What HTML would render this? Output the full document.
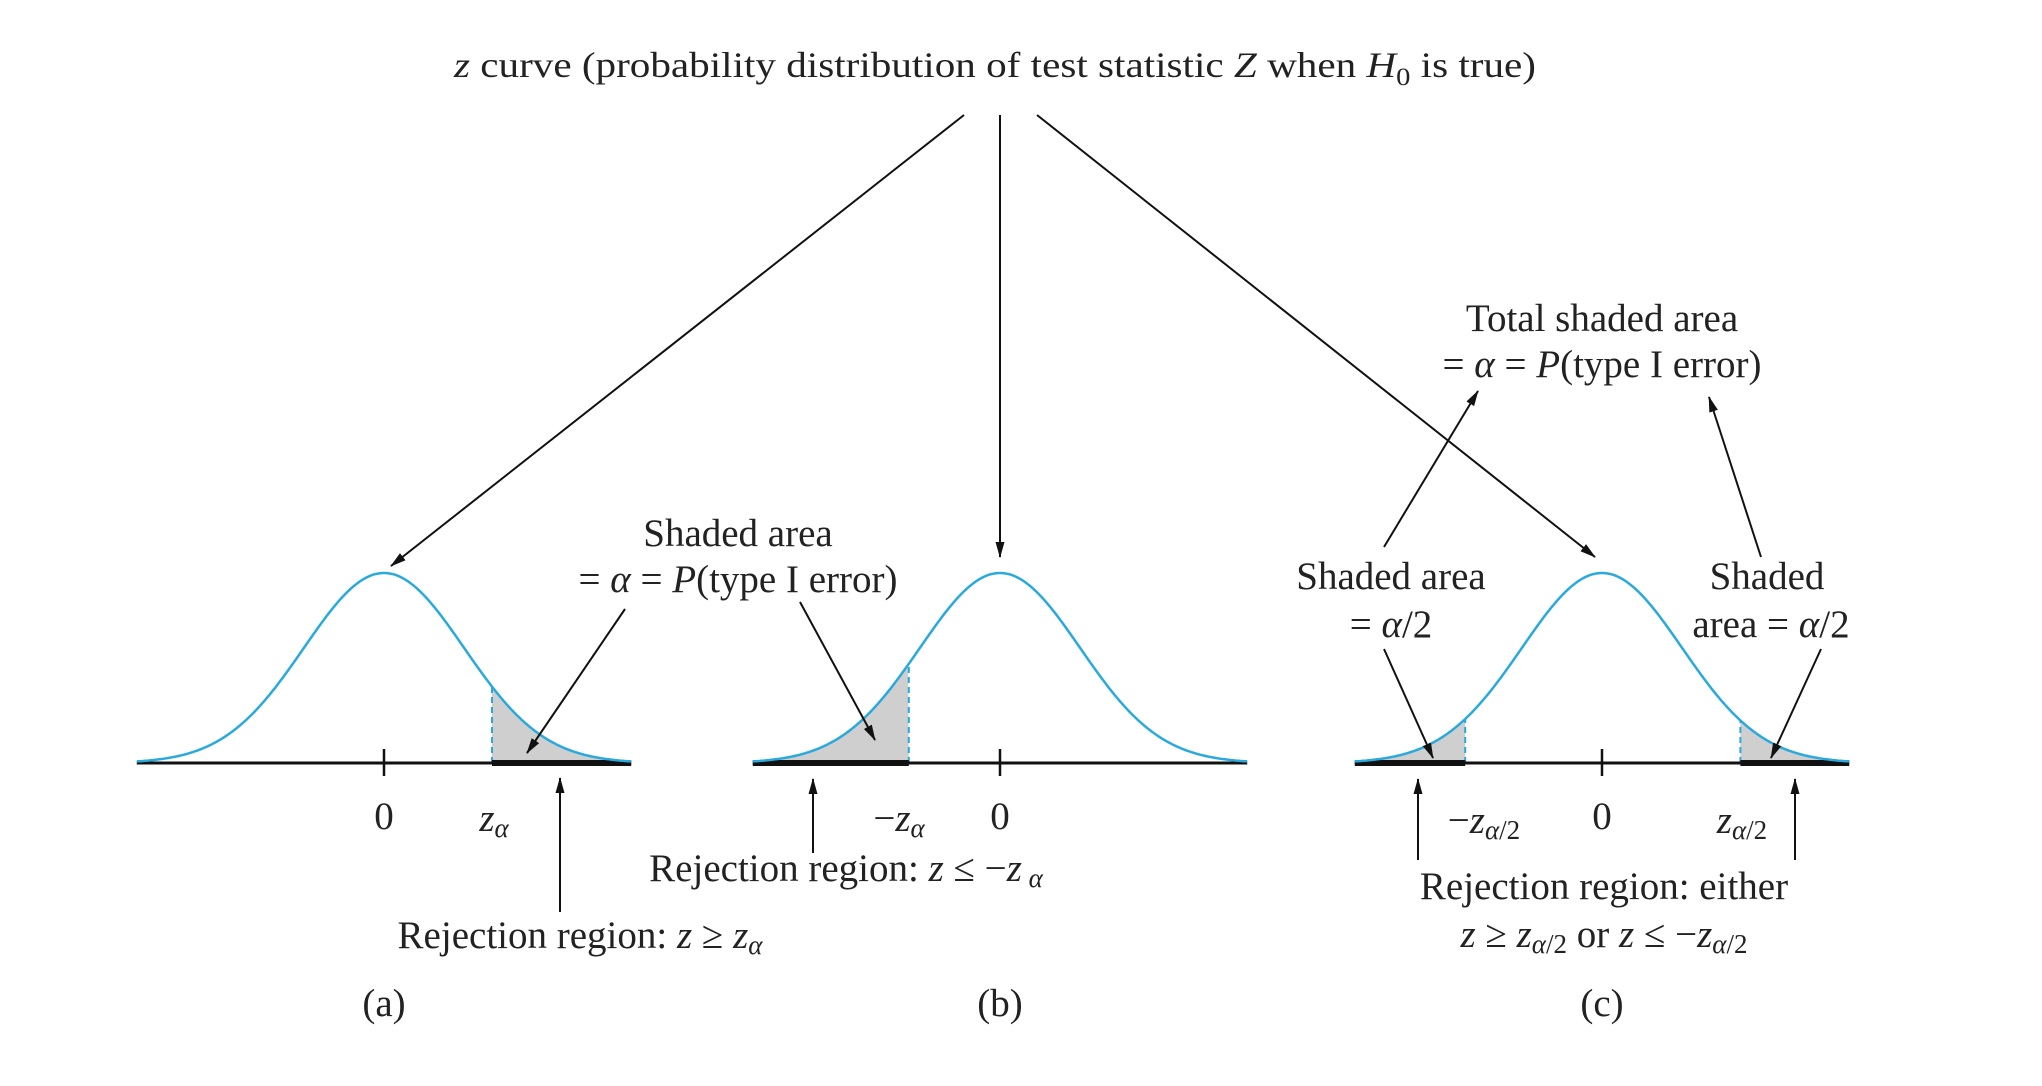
<!DOCTYPE html>
<html><head><meta charset="utf-8"><style>
html,body{margin:0;padding:0;background:#fff}
svg{display:block}
text{font-family:"Liberation Serif",serif;fill:#222;}
</style></head><body>
<svg id="fig" width="2042" height="1086" viewBox="0 0 2042 1086" xmlns="http://www.w3.org/2000/svg">
<defs>
<marker id="ah" markerWidth="16" markerHeight="12" refX="15" refY="6" orient="auto" markerUnits="userSpaceOnUse" viewBox="0 0 16 12"><path d="M0,1.5 L16,6 L0,10.5 Z" fill="#111"/></marker>
</defs>
<g id="marks"></g>
<text x="995" y="77" font-size="36" text-anchor="middle" textLength="1082" lengthAdjust="spacingAndGlyphs"><tspan font-style="italic">z</tspan> curve (probability distribution of test statistic <tspan font-style="italic">Z</tspan> when <tspan font-style="italic">H</tspan><tspan font-size="25" dy="8">0</tspan><tspan dy="-8"> is true)</tspan></text>

<text x="738" y="546" font-size="39" text-anchor="middle">Shaded area</text>
<text x="738" y="592" font-size="39" text-anchor="middle">= <tspan font-style="italic">α</tspan> = <tspan font-style="italic">P</tspan>(type I error)</text>
<text x="384" y="829" font-size="39" text-anchor="middle">0</text>
<text x="494" y="831" font-size="39" text-anchor="middle" font-style="italic">z<tspan font-size="27" dy="6">α</tspan></text>
<text x="580" y="948" font-size="39" text-anchor="middle">Rejection region: <tspan font-style="italic">z</tspan> ≥ <tspan font-style="italic">z</tspan><tspan font-size="27" dy="6" font-style="italic">α</tspan></text>
<text x="384" y="1016" font-size="39" text-anchor="middle">(a)</text>

<text x="899" y="831" font-size="39" text-anchor="middle">−<tspan font-style="italic">z</tspan><tspan font-size="27" dy="6" font-style="italic">α</tspan></text>
<text x="1000" y="829" font-size="39" text-anchor="middle">0</text>
<text x="846" y="881" font-size="39" text-anchor="middle">Rejection region: <tspan font-style="italic">z</tspan> ≤ −<tspan font-style="italic">z</tspan><tspan font-size="27" dy="6" font-style="italic"> α</tspan></text>
<text x="1000" y="1016" font-size="39" text-anchor="middle">(b)</text>

<text x="1602" y="331" font-size="39" text-anchor="middle">Total shaded area</text>
<text x="1602" y="377" font-size="39" text-anchor="middle">= <tspan font-style="italic">α</tspan> = <tspan font-style="italic">P</tspan>(type I error)</text>
<text x="1391" y="589" font-size="39" text-anchor="middle">Shaded area</text>
<text x="1391" y="637" font-size="39" text-anchor="middle">= <tspan font-style="italic">α</tspan>/2</text>
<text x="1767" y="589" font-size="39" text-anchor="middle">Shaded</text>
<text x="1771" y="637" font-size="39" text-anchor="middle">area = <tspan font-style="italic">α</tspan>/2</text>
<text x="1484" y="833" font-size="39" text-anchor="middle">−<tspan font-style="italic">z</tspan><tspan font-size="27" dy="6" font-style="italic">α</tspan><tspan font-size="27">/2</tspan></text>
<text x="1602" y="829" font-size="39" text-anchor="middle">0</text>
<text x="1742" y="833" font-size="39" text-anchor="middle" font-style="italic">z<tspan font-size="27" dy="6">α</tspan><tspan font-size="27" font-style="normal">/2</tspan></text>
<text x="1604" y="899" font-size="39" text-anchor="middle">Rejection region: either</text>
<text x="1604" y="947" font-size="39" text-anchor="middle"><tspan font-style="italic">z</tspan> ≥ <tspan font-style="italic">z</tspan><tspan font-size="27" dy="6" font-style="italic">α</tspan><tspan font-size="27">/2</tspan><tspan dy="-6"> or </tspan><tspan font-style="italic">z</tspan> ≤ −<tspan font-style="italic">z</tspan><tspan font-size="27" dy="6" font-style="italic">α</tspan><tspan font-size="27">/2</tspan></text>
<text x="1602" y="1016" font-size="39" text-anchor="middle">(c)</text>
</svg>
<script>
// Panel data
const panelNames = ["a","b","c"];
const centers = [384, 1000, 1602];
const zMin = [-3.09, -3.09, -3.09];
const zMax = [3.09, 3.09, 3.09];
const shadeLo = [[1.35], [-3.09], [-3.09, 1.73]];
const shadeHi = [[3.09], [-1.14], [-1.71, 3.09]];
const SD = 80, AXIS_Y = 763, PEAK = 190;
const NS = "http://www.w3.org/2000/svg";
const g = document.getElementById("marks");
function xs(p, z){ return centers[p] + z*SD; }
function ys(z){ return AXIS_Y - PEAK*Math.exp(-z*z/2); }
function mk(tag, attrs){ const e=document.createElementNS(NS,tag); for(const k in attrs) e.setAttribute(k,attrs[k]); g.appendChild(e); return e; }
panelNames.forEach((nm,p)=>{
  shadeLo[p].forEach((lo,i)=>{
    const hi = shadeHi[p][i];
    let d = "M"+xs(p,lo)+","+AXIS_Y;
    for(let z=lo; z<=hi+1e-9; z+=0.02) d += " L"+xs(p,z).toFixed(1)+","+ys(z).toFixed(1);
    d += " L"+xs(p,hi)+","+AXIS_Y+" Z";
    const s = mk("path",{d:d, fill:"#cfcfcf"});
    
    
    [lo,hi].forEach(zb=>{ if(zb>zMin[p]+0.01 && zb<zMax[p]-0.01){
      const dl = mk("line",{x1:xs(p,zb),y1:AXIS_Y,x2:xs(p,zb),y2:ys(zb),stroke:"#29a9dc","stroke-width":2,"stroke-dasharray":"6,4"});
      
      
    }});
    const th = mk("line",{x1:xs(p,lo),y1:AXIS_Y,x2:xs(p,hi),y2:AXIS_Y,stroke:"#111","stroke-width":6});
    
    
  });
  const ax = mk("line",{x1:xs(p,zMin[p]),y1:AXIS_Y,x2:xs(p,zMax[p]),y2:AXIS_Y,stroke:"#111","stroke-width":3});
  
  
  const tk = mk("line",{x1:xs(p,0),y1:AXIS_Y-14,x2:xs(p,0),y2:AXIS_Y+13,stroke:"#111","stroke-width":2.5});
  
  
  let d="";
  for(let z=zMin[p]; z<=zMax[p]+1e-9; z+=0.02) d += (d?" L":"M")+xs(p,z).toFixed(1)+","+ys(z).toFixed(1);
  const c = mk("path",{d:d, fill:"none", stroke:"#29a9dc","stroke-width":2.5});
  
  
});
const arrows = [
 [964,115,391,566],[1000,115,1000,557],[1037,115,1595,557],
 [625,609,527,753],[800,602,875,740],[560,912,560,778],
 [813,853,813,779],
 [1384,547,1478,391],[1761,557,1709,397],[1384,649,1433,758],[1821,649,1771,758],
 [1418,860,1418,779],[1795,860,1795,779]
];
arrows.forEach((a,i)=>{
  const l = mk("line",{x1:a[0],y1:a[1],x2:a[2],y2:a[3],stroke:"#111","stroke-width":2,"marker-end":"url(#ah)"});
  
  
});
</script>
</body></html>
